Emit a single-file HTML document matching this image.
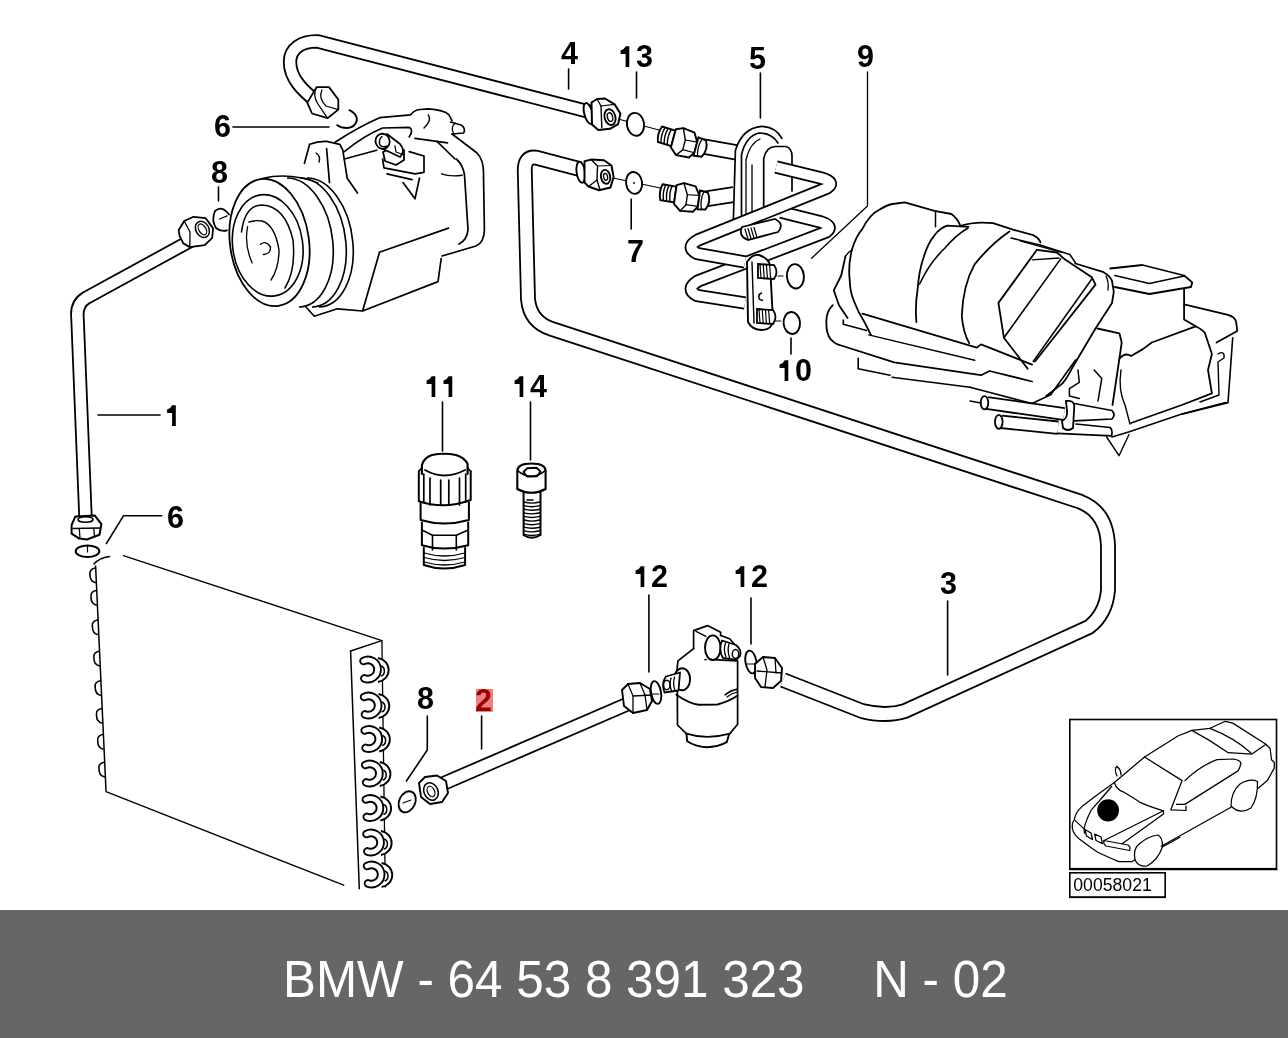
<!DOCTYPE html>
<html><head><meta charset="utf-8"><style>
html,body{margin:0;padding:0;background:#fff;}
body{width:1288px;height:1038px;overflow:hidden;position:relative;font-family:"Liberation Sans",sans-serif;}
#band{position:absolute;left:0;top:910px;width:1288px;height:128px;background:#666666;}
#cap{position:absolute;left:283px;top:948.6px;font-size:52px;color:#fff;white-space:pre;line-height:60px;transform-origin:0 0;transform:scaleX(0.9497);}
svg{position:absolute;left:0;top:0;}
text{-webkit-font-smoothing:antialiased;}
#cap{-webkit-font-smoothing:antialiased;}
</style></head><body>
<svg width="1288" height="910" viewBox="0 0 1288 910" style="will-change:transform">
<path d="M316,101 C302,90 290,78 290,62 C290,48 302,41 318,41.5 L592,112.5" fill="none" stroke="#000" stroke-width="14.3" stroke-linejoin="round" stroke-linecap="butt"/>
<path d="M316,101 C302,90 290,78 290,62 C290,48 302,41 318,41.5 L592,112.5" fill="none" stroke="#fff" stroke-width="10.7" stroke-linejoin="round" stroke-linecap="butt"/>
<path d="M783,680 L862,711 Q886,717 905,711 L1089,627 Q1106,614 1108,590 L1108,546 Q1107,512 1080,501.6 L552,329 Q530,322 528,299 L524.8,172 Q524,155.5 537,157.8 L580,169.2" fill="none" stroke="#000" stroke-width="15.8" stroke-linejoin="round" stroke-linecap="butt"/>
<path d="M783,680 L862,711 Q886,717 905,711 L1089,627 Q1106,614 1108,590 L1108,546 Q1107,512 1080,501.6 L552,329 Q530,322 528,299 L524.8,172 Q524,155.5 537,157.8 L580,169.2" fill="none" stroke="#fff" stroke-width="12.2" stroke-linejoin="round" stroke-linecap="butt"/>
<path d="M192,240 L86,298 Q76,304 77.5,318 L85.5,517" fill="none" stroke="#000" stroke-width="14.3" stroke-linejoin="round" stroke-linecap="butt"/>
<path d="M192,240 L86,298 Q76,304 77.5,318 L85.5,517" fill="none" stroke="#fff" stroke-width="10.7" stroke-linejoin="round" stroke-linecap="butt"/>
<path d="M440,785 L630,703" fill="none" stroke="#000" stroke-width="14.8" stroke-linejoin="round" stroke-linecap="butt"/>
<path d="M440,785 L630,703" fill="none" stroke="#fff" stroke-width="11.2" stroke-linejoin="round" stroke-linecap="butt"/>
<text x="561.00" y="64" font-family="Liberation Sans" font-weight="bold" font-size="30.5" fill="#000">4</text>
<path d="M625.60,67.00 L625.60,54.10 L620.60,54.10 L620.60,50.60 Q624.20,49.70 625.70,46.30 L629.30,46.30 L629.30,67.00 Z" fill="#000"/>
<text x="635.96" y="67" font-family="Liberation Sans" font-weight="bold" font-size="30.5" fill="#000">3</text>
<text x="749.00" y="69" font-family="Liberation Sans" font-weight="bold" font-size="30.5" fill="#000">5</text>
<text x="857.00" y="67" font-family="Liberation Sans" font-weight="bold" font-size="30.5" fill="#000">9</text>
<text x="214.00" y="137" font-family="Liberation Sans" font-weight="bold" font-size="30.5" fill="#000">6</text>
<text x="211.00" y="183" font-family="Liberation Sans" font-weight="bold" font-size="30.5" fill="#000">8</text>
<text x="627.00" y="262" font-family="Liberation Sans" font-weight="bold" font-size="30.5" fill="#000">7</text>
<path d="M784.60,381.00 L784.60,368.10 L779.60,368.10 L779.60,364.60 Q783.20,363.70 784.70,360.30 L788.30,360.30 L788.30,381.00 Z" fill="#000"/>
<text x="794.96" y="381" font-family="Liberation Sans" font-weight="bold" font-size="30.5" fill="#000">0</text>
<path d="M431.60,397.00 L431.60,384.10 L426.60,384.10 L426.60,380.60 Q430.20,379.70 431.70,376.30 L435.30,376.30 L435.30,397.00 Z" fill="#000"/>
<path d="M448.56,397.00 L448.56,384.10 L443.56,384.10 L443.56,380.60 Q447.16,379.70 448.66,376.30 L452.26,376.30 L452.26,397.00 Z" fill="#000"/>
<path d="M519.60,397.00 L519.60,384.10 L514.60,384.10 L514.60,380.60 Q518.20,379.70 519.70,376.30 L523.30,376.30 L523.30,397.00 Z" fill="#000"/>
<text x="529.96" y="397" font-family="Liberation Sans" font-weight="bold" font-size="30.5" fill="#000">4</text>
<path d="M172.10,426.00 L172.10,413.10 L167.10,413.10 L167.10,409.60 Q170.70,408.70 172.20,405.30 L175.80,405.30 L175.80,426.00 Z" fill="#000"/>
<text x="167.00" y="528" font-family="Liberation Sans" font-weight="bold" font-size="30.5" fill="#000">6</text>
<path d="M640.60,587.00 L640.60,574.10 L635.60,574.10 L635.60,570.60 Q639.20,569.70 640.70,566.30 L644.30,566.30 L644.30,587.00 Z" fill="#000"/>
<text x="650.96" y="587" font-family="Liberation Sans" font-weight="bold" font-size="30.5" fill="#000">2</text>
<path d="M740.60,587.00 L740.60,574.10 L735.60,574.10 L735.60,570.60 Q739.20,569.70 740.70,566.30 L744.30,566.30 L744.30,587.00 Z" fill="#000"/>
<text x="750.96" y="587" font-family="Liberation Sans" font-weight="bold" font-size="30.5" fill="#000">2</text>
<text x="940.00" y="594" font-family="Liberation Sans" font-weight="bold" font-size="30.5" fill="#000">3</text>
<text x="417.00" y="709" font-family="Liberation Sans" font-weight="bold" font-size="30.5" fill="#000">8</text>
<rect x="476" y="689" width="17" height="23" fill="#f08080"/>
<text x="475.00" y="711" font-family="Liberation Sans" font-weight="bold" font-size="30.5" fill="#990000">2</text>
<path d="M233.0,127.0 L329.0,127.0" fill="none" stroke="#000" stroke-width="1.6" stroke-linejoin="round" stroke-linecap="round"/>
<path d="M218.5,187.0 L218.5,201.0" fill="none" stroke="#000" stroke-width="1.6" stroke-linejoin="round" stroke-linecap="round"/>
<path d="M568.6,69.0 L568.6,89.0" fill="none" stroke="#000" stroke-width="1.6" stroke-linejoin="round" stroke-linecap="round"/>
<path d="M636.5,72.0 L636.5,98.0" fill="none" stroke="#000" stroke-width="1.6" stroke-linejoin="round" stroke-linecap="round"/>
<path d="M760.4,73.0 L760.4,118.0" fill="none" stroke="#000" stroke-width="1.6" stroke-linejoin="round" stroke-linecap="round"/>
<path d="M867.5,72.0 L867.5,206.0 L811.6,258.2" fill="none" stroke="#000" stroke-width="1.3" stroke-linejoin="round" stroke-linecap="round"/>
<path d="M631.2,199.0 L631.2,229.0" fill="none" stroke="#000" stroke-width="1.6" stroke-linejoin="round" stroke-linecap="round"/>
<path d="M791.0,338.0 L791.0,354.0" fill="none" stroke="#000" stroke-width="1.6" stroke-linejoin="round" stroke-linecap="round"/>
<path d="M442.5,402.0 L442.5,451.0" fill="none" stroke="#000" stroke-width="1.6" stroke-linejoin="round" stroke-linecap="round"/>
<path d="M530.5,402.0 L530.5,460.0" fill="none" stroke="#000" stroke-width="1.6" stroke-linejoin="round" stroke-linecap="round"/>
<path d="M98.0,415.0 L160.0,415.0" fill="none" stroke="#000" stroke-width="1.6" stroke-linejoin="round" stroke-linecap="round"/>
<path d="M161.7,515.7 L123.6,515.7 L106.4,543.5" fill="none" stroke="#000" stroke-width="1.6" stroke-linejoin="round" stroke-linecap="round"/>
<path d="M648.9,595.0 L648.9,672.0" fill="none" stroke="#000" stroke-width="1.6" stroke-linejoin="round" stroke-linecap="round"/>
<path d="M751.0,598.0 L751.0,644.0" fill="none" stroke="#000" stroke-width="1.6" stroke-linejoin="round" stroke-linecap="round"/>
<path d="M947.6,601.0 L947.6,675.0" fill="none" stroke="#000" stroke-width="1.6" stroke-linejoin="round" stroke-linecap="round"/>
<path d="M427.3,716.0 L427.3,750.0 L406.4,781.0" fill="none" stroke="#000" stroke-width="1.6" stroke-linejoin="round" stroke-linecap="round"/>
<path d="M481.6,716.0 L481.6,749.0" fill="none" stroke="#000" stroke-width="1.6" stroke-linejoin="round" stroke-linecap="round"/>
<path d="M300,165 L309.6,144.3 L339.8,144.3 L380,118 L428,109 L452,118 L452,137 L477,153 L483,162 L484.4,229.8 L479,245 L441,257 L438,281.6 L362.6,311 L337,309 L314,316 L300,305 L283,306 Z" fill="#fff" stroke="#000" stroke-width="0" stroke-linejoin="round" stroke-linecap="round"/>
<path d="M452,134 Q468,146 477,153 Q484,160 483.5,175 L484.4,229.8 Q484,243 476,246 L442,256" fill="none" stroke="#000" stroke-width="1.7" stroke-linejoin="round" stroke-linecap="round"/>
<path d="M456.4,159 Q463,165 464.5,175 L468,229.8 Q467,240 459,244" fill="none" stroke="#000" stroke-width="1.7" stroke-linejoin="round" stroke-linecap="round"/>
<path d="M379.3,252.2 L448.5,228.1" fill="none" stroke="#000" stroke-width="1.7" stroke-linejoin="round" stroke-linecap="round"/>
<path d="M379.3,253 L362.6,311 L438,281.6 L441.2,258.5" fill="none" stroke="#000" stroke-width="1.7" stroke-linejoin="round" stroke-linecap="round"/>
<path d="M303.9,304.7 L314.3,316.2 L337.4,308.8 L362.6,311" fill="none" stroke="#000" stroke-width="1.7" stroke-linejoin="round" stroke-linecap="round"/>
<path d="M304.4,163.4 L309.6,144.3 Q318,141 326.6,141.3 L339.8,144.3 L342.8,150.2 L347.2,178.2 L357.5,193" fill="none" stroke="#000" stroke-width="1.7" stroke-linejoin="round" stroke-linecap="round"/>
<path d="M326.6,148.7 L329.5,182.6" fill="none" stroke="#000" stroke-width="1.7" stroke-linejoin="round" stroke-linecap="round"/>
<path d="M316,153 Q321,156 319,162" fill="none" stroke="#000" stroke-width="1.4" stroke-linejoin="round" stroke-linecap="round"/>
<path d="M344.3,159 L376.7,150.2" fill="none" stroke="#000" stroke-width="1.7" stroke-linejoin="round" stroke-linecap="round"/>
<path d="M335.4,142 Q360,126 379.7,117.7 L410.6,114.8 Q414,110 420,109.5 L428.3,108.9 Q444,110 449,114.8 L452,120.7" fill="none" stroke="#000" stroke-width="1.7" stroke-linejoin="round" stroke-linecap="round"/>
<path d="M344.3,151.6 Q365,135 382.6,128 L409.2,127.3 Q414,130 409.2,136.9" fill="none" stroke="#000" stroke-width="1.7" stroke-linejoin="round" stroke-linecap="round"/>
<path d="M428.3,114.8 Q432,120 424,128" fill="none" stroke="#000" stroke-width="1.4" stroke-linejoin="round" stroke-linecap="round"/>
<path d="M415,138.4 L447.5,142.8" fill="none" stroke="#000" stroke-width="1.7" stroke-linejoin="round" stroke-linecap="round"/>
<path d="M437,141.3 L455,159" fill="none" stroke="#000" stroke-width="1.7" stroke-linejoin="round" stroke-linecap="round"/>
<path d="M450.5,122 L461,125 Q466,128 463.7,133 L452,134" fill="none" stroke="#000" stroke-width="1.6" stroke-linejoin="round" stroke-linecap="round"/>
<path d="M455,123 Q450,128 454,134" fill="none" stroke="#000" stroke-width="1.3" stroke-linejoin="round" stroke-linecap="round"/>
<path d="M382.6,159 L384,167.9 L415,173.8 L424,172.3 L424,156 L409.2,151.6" fill="none" stroke="#000" stroke-width="1.7" stroke-linejoin="round" stroke-linecap="round"/>
<path d="M383,152 L385,161 L396,165 L404,160 L404,150 L395,146 Z" fill="#fff" stroke="#000" stroke-width="1.8" stroke-linejoin="round"/>
<path d="M387,134 L400,144 Q406,151 400,157 L379,147 Z" fill="#fff" stroke="#000" stroke-width="1.8" stroke-linejoin="round"/>
<ellipse cx="382.6" cy="141.3" rx="7" ry="7.6" transform="rotate(-20 382.6 141.3)" fill="#fff" stroke="#000" stroke-width="1.8"/>
<path d="M382,136.5 Q378,140 380,145 Q383,148 387,146" fill="none" stroke="#000" stroke-width="1.4" stroke-linejoin="round" stroke-linecap="round"/>
<path d="M395,146 L396,152 L404,155" fill="none" stroke="#000" stroke-width="1.3" stroke-linejoin="round" stroke-linecap="round"/>
<path d="M387,173.8 L412,179.7" fill="none" stroke="#000" stroke-width="1.7" stroke-linejoin="round" stroke-linecap="round"/>
<path d="M403,182.6 L415,198.8 L419.5,178" fill="none" stroke="#000" stroke-width="1.7" stroke-linejoin="round" stroke-linecap="round"/>
<path d="M441.6,173.8 Q450,177 462.3,175.2" fill="none" stroke="#000" stroke-width="1.4" stroke-linejoin="round" stroke-linecap="round"/>
<path d="M307,178 A38.5 63 -8 0 1 319,307" fill="#fff" stroke="#000" stroke-width="1.6"/>
<path d="M300,178 A38.5 63 -8 0 1 312,307" fill="#fff" stroke="#000" stroke-width="1.6"/>
<path d="M287,178 A38.5 63 -8 0 1 299,307" fill="#fff" stroke="#000" stroke-width="1.6"/>
<path d="M262,178.5 Q290,172 318,183" fill="none" stroke="#000" stroke-width="1.5" stroke-linejoin="round" stroke-linecap="round"/>
<ellipse cx="269.5" cy="242.5" rx="39.5" ry="64" transform="rotate(-8 269.5 242.5)" fill="#fff" stroke="#000" stroke-width="1.8"/>
<ellipse cx="267.7" cy="245.4" rx="35" ry="51" transform="rotate(-8 267.7 245.4)" fill="none" stroke="#000" stroke-width="1.6"/>
<path d="M241.5,232 Q245,205 262,205 Q285,206 293,240 Q296,270 285,288" fill="none" stroke="#000" stroke-width="1.5" stroke-linejoin="round" stroke-linecap="round"/>
<path d="M249,222 Q255,220 262,221 Q275,225 279,250 Q279,268 271,280" fill="none" stroke="#000" stroke-width="1.4" stroke-linejoin="round" stroke-linecap="round"/>
<path d="M247.6,226.6 Q244,245 252.2,262.9" fill="none" stroke="#000" stroke-width="1.3" stroke-linejoin="round" stroke-linecap="round"/>
<path d="M260.6,244.3 Q266,240 270.5,247 Q271,254 263.4,254.5" fill="none" stroke="#000" stroke-width="1.4" stroke-linejoin="round" stroke-linecap="round"/>
<path d="M178.6,230.3 L184.2,221.0 L193.5,216.8 L205.7,218.2 L213.1,228.4 L212.2,237.8 L204.7,245.2 L189.8,247.1 L183.3,243.4 L179.6,235.9Z" fill="#fff" stroke="#000" stroke-width="1.8" stroke-linejoin="round" stroke-linecap="round"/>
<ellipse cx="202.4" cy="229.4" rx="6.5" ry="8.5" transform="rotate(-30 202.4 229.4)" fill="#fff" stroke="#000" stroke-width="1.5"/>
<ellipse cx="202.4" cy="229.4" rx="3.5" ry="6" transform="rotate(-30 202.4 229.4)" fill="none" stroke="#000" stroke-width="1.2"/>
<path d="M184.2,221 L190,232 L189.8,247" fill="none" stroke="#000" stroke-width="1.3" stroke-linejoin="round" stroke-linecap="round"/>
<path d="M229,214.5 Q222,205 215,211 Q211,220 216,228 Q221,232 227,230.3" fill="none" stroke="#000" stroke-width="1.8" stroke-linejoin="round" stroke-linecap="round"/>
<path d="M219.6,219 L227,215.9" fill="none" stroke="#000" stroke-width="1.3" stroke-linejoin="round" stroke-linecap="round"/>
<path d="M307.3,102.6 L312.0,113.5 L327.5,118.2 L338.3,109.6 L338.3,99.5 L329.0,87.1 L316.6,87.1Z" fill="#fff" stroke="#000" stroke-width="1.8" stroke-linejoin="round" stroke-linecap="round"/>
<path d="M316.6,87.1 Q312,95 318,104 L327.5,118.2" fill="none" stroke="#000" stroke-width="1.3" stroke-linejoin="round" stroke-linecap="round"/>
<path d="M322,90 Q318,98 326,106 L338.3,109.6" fill="none" stroke="#000" stroke-width="1.3" stroke-linejoin="round" stroke-linecap="round"/>
<path d="M349.5,110.2 Q357.5,114 356.8,120.5 Q355,127.5 347,128 Q341,128 337.3,125.2" fill="none" stroke="#000" stroke-width="2.0" stroke-linejoin="round" stroke-linecap="round"/>
<path d="M123.4,555.6 L381.9,640.6 L385.3,887 L359.3,888.7 L343.7,885.2 L106,791.6 L95.6,566 Z" fill="#fff" stroke="none"/>
<path d="M123.4,555.6 L381.9,640.6" fill="none" stroke="#000" stroke-width="1.4" stroke-linejoin="round" stroke-linecap="round"/>
<path d="M95.6,566 L106,790.5" fill="none" stroke="#000" stroke-width="1.5" stroke-linejoin="round" stroke-linecap="round"/>
<path d="M106,791.6 L343.7,885.2" fill="none" stroke="#000" stroke-width="1.4" stroke-linejoin="round" stroke-linecap="round"/>
<path d="M350.6,651 L359.3,888.7" fill="none" stroke="#000" stroke-width="1.5" stroke-linejoin="round" stroke-linecap="round"/>
<path d="M350.6,651 L381.9,640.6" fill="none" stroke="#000" stroke-width="1.5" stroke-linejoin="round" stroke-linecap="round"/>
<path d="M381.9,640.6 L385.3,887" fill="none" stroke="#000" stroke-width="1.3" stroke-linejoin="round" stroke-linecap="round"/>
<path d="M94,564 Q99,558 109.5,556.5" fill="none" stroke="#000" stroke-width="1.6" stroke-linejoin="round" stroke-linecap="round"/>
<path d="M96.0,567.7 Q89.0,568.7 90.0,574.7 Q90.0,581.7 96.0,582.7" fill="none" stroke="#000" stroke-width="1.6"/>
<path d="M97.0,590.3 Q90.0,591.3 91.0,597.3 Q91.0,604.3 97.0,605.3" fill="none" stroke="#000" stroke-width="1.6"/>
<path d="M98.4,619.7 Q91.4,620.7 92.4,626.7 Q92.4,633.7 98.4,634.7" fill="none" stroke="#000" stroke-width="1.6"/>
<path d="M99.9,651.0 Q92.9,652.0 93.9,658.0 Q93.9,665.0 99.9,666.0" fill="none" stroke="#000" stroke-width="1.6"/>
<path d="M101.2,680.5 Q94.2,681.5 95.2,687.5 Q95.2,694.5 101.2,695.5" fill="none" stroke="#000" stroke-width="1.6"/>
<path d="M102.5,708.2 Q95.5,709.2 96.5,715.2 Q96.5,722.2 102.5,723.2" fill="none" stroke="#000" stroke-width="1.6"/>
<path d="M103.7,734.2 Q96.7,735.2 97.7,741.2 Q97.7,748.2 103.7,749.2" fill="none" stroke="#000" stroke-width="1.6"/>
<path d="M105.0,762.0 Q98.0,763.0 99.0,769.0 Q99.0,776.0 105.0,777.0" fill="none" stroke="#000" stroke-width="1.6"/>
<path d="M378.0,658.0 A13 12.2 0 0 1 378.0,682.0" fill="#fff" stroke="#000" stroke-width="1.9"/>
<path d="M381.0,666.0 A4.7 5.2 0 0 1 381.0,676.0" fill="none" stroke="#000" stroke-width="1.5"/>
<path d="M363.5,661.0 A9.6 9.6 0 1 1 364.4,678.4" fill="none" stroke="#000" stroke-width="8.6" stroke-linecap="round"/>
<path d="M363.5,661.0 A9.6 9.6 0 1 1 364.4,678.4" fill="none" stroke="#fff" stroke-width="4.8" stroke-linecap="round"/>
<path d="M378.6,694.0 A13 12.2 0 0 1 378.6,718.0" fill="#fff" stroke="#000" stroke-width="1.9"/>
<path d="M381.6,702.0 A4.7 5.2 0 0 1 381.6,712.0" fill="none" stroke="#000" stroke-width="1.5"/>
<path d="M364.1,697.0 A9.6 9.6 0 1 1 365.0,714.4" fill="none" stroke="#000" stroke-width="8.6" stroke-linecap="round"/>
<path d="M364.1,697.0 A9.6 9.6 0 1 1 365.0,714.4" fill="none" stroke="#fff" stroke-width="4.8" stroke-linecap="round"/>
<path d="M379.2,727.5 A13 12.2 0 0 1 379.2,751.5" fill="#fff" stroke="#000" stroke-width="1.9"/>
<path d="M382.2,735.5 A4.7 5.2 0 0 1 382.2,745.5" fill="none" stroke="#000" stroke-width="1.5"/>
<path d="M364.7,730.5 A9.6 9.6 0 1 1 365.6,747.9" fill="none" stroke="#000" stroke-width="8.6" stroke-linecap="round"/>
<path d="M364.7,730.5 A9.6 9.6 0 1 1 365.6,747.9" fill="none" stroke="#fff" stroke-width="4.8" stroke-linecap="round"/>
<path d="M379.8,762.0 A13 12.2 0 0 1 379.8,786.0" fill="#fff" stroke="#000" stroke-width="1.9"/>
<path d="M382.8,770.0 A4.7 5.2 0 0 1 382.8,780.0" fill="none" stroke="#000" stroke-width="1.5"/>
<path d="M365.3,765.0 A9.6 9.6 0 1 1 366.2,782.4" fill="none" stroke="#000" stroke-width="8.6" stroke-linecap="round"/>
<path d="M365.3,765.0 A9.6 9.6 0 1 1 366.2,782.4" fill="none" stroke="#fff" stroke-width="4.8" stroke-linecap="round"/>
<path d="M380.4,796.5 A13 12.2 0 0 1 380.4,820.5" fill="#fff" stroke="#000" stroke-width="1.9"/>
<path d="M383.4,804.5 A4.7 5.2 0 0 1 383.4,814.5" fill="none" stroke="#000" stroke-width="1.5"/>
<path d="M365.9,799.5 A9.6 9.6 0 1 1 366.8,816.9" fill="none" stroke="#000" stroke-width="8.6" stroke-linecap="round"/>
<path d="M365.9,799.5 A9.6 9.6 0 1 1 366.8,816.9" fill="none" stroke="#fff" stroke-width="4.8" stroke-linecap="round"/>
<path d="M381.0,831.0 A13 12.2 0 0 1 381.0,855.0" fill="#fff" stroke="#000" stroke-width="1.9"/>
<path d="M384.0,839.0 A4.7 5.2 0 0 1 384.0,849.0" fill="none" stroke="#000" stroke-width="1.5"/>
<path d="M366.5,834.0 A9.6 9.6 0 1 1 367.4,851.4" fill="none" stroke="#000" stroke-width="8.6" stroke-linecap="round"/>
<path d="M366.5,834.0 A9.6 9.6 0 1 1 367.4,851.4" fill="none" stroke="#fff" stroke-width="4.8" stroke-linecap="round"/>
<path d="M381.6,863.0 A13 12.2 0 0 1 381.6,887.0" fill="#fff" stroke="#000" stroke-width="1.9"/>
<path d="M384.6,871.0 A4.7 5.2 0 0 1 384.6,881.0" fill="none" stroke="#000" stroke-width="1.5"/>
<path d="M367.1,866.0 A9.6 9.6 0 1 1 368.0,883.4" fill="none" stroke="#000" stroke-width="8.6" stroke-linecap="round"/>
<path d="M367.1,866.0 A9.6 9.6 0 1 1 368.0,883.4" fill="none" stroke="#fff" stroke-width="4.8" stroke-linecap="round"/>
<ellipse cx="87.5" cy="551.2" rx="11.8" ry="5.8" transform="rotate(0 87.5 551.2)" fill="none" stroke="#000" stroke-width="2.0"/>
<path d="M87.5,546 L87.5,552" fill="none" stroke="#000" stroke-width="1.2" stroke-linejoin="round" stroke-linecap="round"/>
<path d="M75.4,516.4 L94.7,515.4 L101.4,524.1 L99.5,534.7 L87.0,539.5 L79.3,538.6 L71.6,533.7 L71.6,525.0Z" fill="#fff" stroke="#000" stroke-width="2.0" stroke-linejoin="round" stroke-linecap="round"/>
<path d="M73,528.5 L100,528" fill="none" stroke="#000" stroke-width="1.5" stroke-linejoin="round" stroke-linecap="round"/>
<path d="M79.3,528.7 L80,538.5" fill="none" stroke="#000" stroke-width="1.3" stroke-linejoin="round" stroke-linecap="round"/>
<path d="M93.7,528.5 L94.5,536.5" fill="none" stroke="#000" stroke-width="1.3" stroke-linejoin="round" stroke-linecap="round"/>
<ellipse cx="85.5" cy="519.5" rx="7.5" ry="2.8" transform="rotate(0 85.5 519.5)" fill="#fff" stroke="#000" stroke-width="1.6"/>
<ellipse cx="407.2" cy="801.8" rx="8" ry="11" transform="rotate(25 407.2 801.8)" fill="none" stroke="#000" stroke-width="1.9"/>
<path d="M403,803 L411,800" fill="none" stroke="#000" stroke-width="1.2" stroke-linejoin="round" stroke-linecap="round"/>
<path d="M419.0,783.0 L425.0,777.0 L437.0,775.5 L446.0,781.0 L448.0,793.0 L442.0,802.0 L430.0,804.0 L421.0,797.0Z" fill="#fff" stroke="#000" stroke-width="1.9" stroke-linejoin="round" stroke-linecap="round"/>
<ellipse cx="431" cy="791.5" rx="7" ry="9" transform="rotate(-25 431 791.5)" fill="none" stroke="#000" stroke-width="1.6"/>
<ellipse cx="431" cy="791.5" rx="3.5" ry="5.5" transform="rotate(-25 431 791.5)" fill="none" stroke="#000" stroke-width="1.3"/>
<path d="M677.2,667.4 L678,660.9 L693.6,648.6 L693.6,630.6 L707.5,625.6 L720.6,632.2 L729.6,638.8 L740.3,651 L737.6,661 L737.6,724.3 L729.9,733.6 L729.1,742 Q718,747.5 706.6,747.5 Q695,746.5 687.2,741.3 L686.4,733.6 L677.5,725 Z" fill="#fff" stroke="none"/>
<path d="M693.6,648.6 L678,660.9 L677.2,667.4 L677.5,725 L686.4,733.6 Q706.6,740 729.9,733.6 L737.6,724.3 L737.6,660.9" fill="none" stroke="#000" stroke-width="1.7" stroke-linejoin="round" stroke-linecap="round"/>
<path d="M676.3,694.8 Q690,704 698.8,704.8 L717.5,704.5 Q730,701 737.6,695.5" fill="none" stroke="#000" stroke-width="1.9" stroke-linejoin="round" stroke-linecap="round"/>
<path d="M686.4,733.6 L687.2,741.3 Q695,746.5 706.6,747.2 Q718,747 726.8,742.1 L729.1,734.3" fill="none" stroke="#000" stroke-width="1.9" stroke-linejoin="round" stroke-linecap="round"/>
<path d="M725.2,694.8 Q731,690 736.9,689.3" fill="none" stroke="#000" stroke-width="1.7" stroke-linejoin="round" stroke-linecap="round"/>
<path d="M727,697 Q732,693 737,692" fill="none" stroke="#000" stroke-width="1.2" stroke-linejoin="round" stroke-linecap="round"/>
<path d="M693.6,648.6 L693.6,630.6 L707.5,625.6 L720.6,632.2 L720.6,636" fill="none" stroke="#000" stroke-width="1.7" stroke-linejoin="round" stroke-linecap="round"/>
<path d="M696,631.4 L705.9,636.3" fill="none" stroke="#000" stroke-width="1.5" stroke-linejoin="round" stroke-linecap="round"/>
<path d="M712.8,635.4 L720.6,635.5 L729.6,638.8 L740.3,651 L737,660.9 L713.2,660 Z" fill="#fff" stroke="none"/>
<path d="M720.6,635.5 L729.6,638.8 L740.3,651" fill="none" stroke="#000" stroke-width="1.7" stroke-linejoin="round" stroke-linecap="round"/>
<path d="M713.2,659.6 L737,660.9" fill="none" stroke="#000" stroke-width="1.7" stroke-linejoin="round" stroke-linecap="round"/>
<ellipse cx="712.8" cy="647.7" rx="7.8" ry="12.3" transform="rotate(0 712.8 647.7)" fill="#fff" stroke="#000" stroke-width="1.9"/>
<path d="M722,640.5 L736,645 Q742,650 740,656 L736,660 L723,658 Q718,650 722,640.5 Z" fill="#fff" stroke="#000" stroke-width="1.8"/>
<path d="M725.5,643 Q723,650 726,657" fill="none" stroke="#000" stroke-width="1.3" stroke-linejoin="round" stroke-linecap="round"/>
<path d="M729,644 Q727,650 729.5,657.5" fill="none" stroke="#000" stroke-width="1.3" stroke-linejoin="round" stroke-linecap="round"/>
<ellipse cx="735.5" cy="654" rx="3.2" ry="4.5" transform="rotate(0 735.5 654)" fill="none" stroke="#000" stroke-width="1.5"/>
<path d="M704.2,659.6 L712,659.6" stroke="#000" stroke-width="1.4" stroke-dasharray="3,2"/>
<ellipse cx="682.1" cy="679.2" rx="8" ry="11" transform="rotate(0 682.1 679.2)" fill="#fff" stroke="#000" stroke-width="1.9"/>
<path d="M680,672.5 L666,676.5 Q661,683 664.5,692.5 L678.5,690.5 Z" fill="#fff" stroke="#000" stroke-width="1.8" stroke-linejoin="round"/>
<ellipse cx="666.8" cy="685" rx="3.2" ry="4.8" transform="rotate(0 666.8 685)" fill="none" stroke="#000" stroke-width="1.4"/>
<path d="M671,678 Q669,684 671.5,691" fill="none" stroke="#000" stroke-width="1.3" stroke-linejoin="round" stroke-linecap="round"/>
<path d="M674.5,677 Q672.5,684 675,690.5" fill="none" stroke="#000" stroke-width="1.3" stroke-linejoin="round" stroke-linecap="round"/>
<ellipse cx="656" cy="692.5" rx="5" ry="11.5" transform="rotate(-10 656 692.5)" fill="none" stroke="#000" stroke-width="1.9"/>
<path d="M651,694 L659,694" fill="none" stroke="#000" stroke-width="1.2" stroke-linejoin="round" stroke-linecap="round"/>
<path d="M622.0,690.0 L628.0,684.0 L640.0,683.0 L650.0,689.0 L652.0,701.0 L647.0,710.0 L633.0,713.0 L624.0,706.0Z" fill="#fff" stroke="#000" stroke-width="1.9" stroke-linejoin="round" stroke-linecap="round"/>
<path d="M628,684 L633,696 L633,713" fill="none" stroke="#000" stroke-width="1.3" stroke-linejoin="round" stroke-linecap="round"/>
<path d="M640,683 L645,695 L647,710" fill="none" stroke="#000" stroke-width="1.3" stroke-linejoin="round" stroke-linecap="round"/>
<path d="M633,696 L652,695" fill="none" stroke="#000" stroke-width="1.3" stroke-linejoin="round" stroke-linecap="round"/>
<ellipse cx="751" cy="662" rx="5.5" ry="11.5" transform="rotate(-10 751 662)" fill="none" stroke="#000" stroke-width="1.9"/>
<path d="M746,664 L756,664" fill="none" stroke="#000" stroke-width="1.2" stroke-linejoin="round" stroke-linecap="round"/>
<path d="M755.0,664.0 L763.0,657.0 L775.0,658.0 L782.0,668.0 L781.0,681.0 L773.0,688.0 L761.0,687.0 L755.0,678.0Z" fill="#fff" stroke="#000" stroke-width="1.9" stroke-linejoin="round" stroke-linecap="round"/>
<path d="M763,657 L767,670 L765,687" fill="none" stroke="#000" stroke-width="1.3" stroke-linejoin="round" stroke-linecap="round"/>
<path d="M775,658 L776,673" fill="none" stroke="#000" stroke-width="1.3" stroke-linejoin="round" stroke-linecap="round"/>
<path d="M757,671 L782,673" fill="none" stroke="#000" stroke-width="1.3" stroke-linejoin="round" stroke-linecap="round"/>
<path d="M421,462 Q424,455 444,453 Q465,455 468,462 L470.7,471 L470.7,501 L468.9,520 L468.2,546 L465.1,548 L465.1,566 Q444,573 423.8,566 L423.8,548 L421.9,546 L420.6,520 L418.8,501 L418.8,471 Z" fill="#fff" stroke="none"/>
<path d="M421.9,474 L421.9,465 Q424,457.5 432,455 Q444,452.5 456,455 Q465,458 467.6,464 L467.6,474" fill="none" stroke="#000" stroke-width="2.2" stroke-linejoin="round" stroke-linecap="round"/>
<path d="M425,470 Q444,481 465.1,470" fill="none" stroke="#000" stroke-width="1.8" stroke-linejoin="round" stroke-linecap="round"/>
<path d="M418.8,471.3 L418.8,501.3 Q444,510 470.7,500 L470.7,471.3" fill="none" stroke="#000" stroke-width="2.0" stroke-linejoin="round" stroke-linecap="round"/>
<path d="M418.8,471.3 L421.9,468" fill="none" stroke="#000" stroke-width="1.6" stroke-linejoin="round" stroke-linecap="round"/>
<path d="M470.7,471.3 L467.6,468" fill="none" stroke="#000" stroke-width="1.6" stroke-linejoin="round" stroke-linecap="round"/>
<path d="M423.8,474 L423.8,502" fill="none" stroke="#000" stroke-width="1.7" stroke-linejoin="round" stroke-linecap="round"/>
<path d="M430,478 L430,505" fill="none" stroke="#000" stroke-width="1.7" stroke-linejoin="round" stroke-linecap="round"/>
<path d="M440.7,480 L440.7,505" fill="none" stroke="#000" stroke-width="1.7" stroke-linejoin="round" stroke-linecap="round"/>
<path d="M448.8,480 L448.8,505" fill="none" stroke="#000" stroke-width="1.7" stroke-linejoin="round" stroke-linecap="round"/>
<path d="M459.5,478 L459.5,505" fill="none" stroke="#000" stroke-width="1.7" stroke-linejoin="round" stroke-linecap="round"/>
<path d="M465.7,474 L465.7,502" fill="none" stroke="#000" stroke-width="1.7" stroke-linejoin="round" stroke-linecap="round"/>
<path d="M420.6,502.6 L420.6,520 Q444,527 468.9,520 L468.9,502.6" fill="none" stroke="#000" stroke-width="2.0" stroke-linejoin="round" stroke-linecap="round"/>
<path d="M421.9,522.6 L421.9,545.2 Q444,552 468.2,545.2 L468.2,522.6" fill="none" stroke="#000" stroke-width="2.0" stroke-linejoin="round" stroke-linecap="round"/>
<path d="M421.9,530 L432.5,535.2 L456.3,535.2 L468.2,530" fill="none" stroke="#000" stroke-width="1.6" stroke-linejoin="round" stroke-linecap="round"/>
<path d="M432.5,535.2 L432.5,550" fill="none" stroke="#000" stroke-width="1.6" stroke-linejoin="round" stroke-linecap="round"/>
<path d="M456.3,535.2 L456.3,550" fill="none" stroke="#000" stroke-width="1.6" stroke-linejoin="round" stroke-linecap="round"/>
<path d="M423.8,548 L423.8,565 Q444,572 465.1,565 L465.1,548" fill="none" stroke="#000" stroke-width="2.0" stroke-linejoin="round" stroke-linecap="round"/>
<path d="M424.3,553 Q444.5,559 464.7,553" fill="none" stroke="#000" stroke-width="1.3" stroke-linejoin="round" stroke-linecap="round"/>
<path d="M424.3,557.5 Q444.5,563.5 464.7,557.5" fill="none" stroke="#000" stroke-width="1.3" stroke-linejoin="round" stroke-linecap="round"/>
<path d="M424.3,562 Q444.5,568 464.7,562" fill="none" stroke="#000" stroke-width="1.3" stroke-linejoin="round" stroke-linecap="round"/>
<path d="M523.6,491 L523.6,535 Q531.5,540.5 540.5,535 L540.5,491" fill="#fff" stroke="#000" stroke-width="2"/>
<path d="M524,502.0 Q531.5,504.2 540,502.0" fill="none" stroke="#000" stroke-width="1.4" stroke-linejoin="round" stroke-linecap="round"/>
<path d="M524,505.6 Q531.5,507.8 540,505.6" fill="none" stroke="#000" stroke-width="1.4" stroke-linejoin="round" stroke-linecap="round"/>
<path d="M524,509.2 Q531.5,511.4 540,509.2" fill="none" stroke="#000" stroke-width="1.4" stroke-linejoin="round" stroke-linecap="round"/>
<path d="M524,512.8 Q531.5,515.0 540,512.8" fill="none" stroke="#000" stroke-width="1.4" stroke-linejoin="round" stroke-linecap="round"/>
<path d="M524,516.4 Q531.5,518.6 540,516.4" fill="none" stroke="#000" stroke-width="1.4" stroke-linejoin="round" stroke-linecap="round"/>
<path d="M524,520.0 Q531.5,522.2 540,520.0" fill="none" stroke="#000" stroke-width="1.4" stroke-linejoin="round" stroke-linecap="round"/>
<path d="M524,523.6 Q531.5,525.8 540,523.6" fill="none" stroke="#000" stroke-width="1.4" stroke-linejoin="round" stroke-linecap="round"/>
<path d="M524,527.2 Q531.5,529.4 540,527.2" fill="none" stroke="#000" stroke-width="1.4" stroke-linejoin="round" stroke-linecap="round"/>
<path d="M524,530.8 Q531.5,533.0 540,530.8" fill="none" stroke="#000" stroke-width="1.4" stroke-linejoin="round" stroke-linecap="round"/>
<path d="M524,534.4 Q531.5,536.6 540,534.4" fill="none" stroke="#000" stroke-width="1.4" stroke-linejoin="round" stroke-linecap="round"/>
<path d="M527,500 L533,500" fill="none" stroke="#000" stroke-width="1.6" stroke-linejoin="round" stroke-linecap="round"/>
<path d="M517.3,470.5 Q518,463.5 531.5,463.5 Q545,463.5 545.6,470.5 L545.6,489 Q531.5,496.5 517.3,489 Z" fill="#fff" stroke="#000" stroke-width="2.1"/>
<path d="M517.6,470.6 Q531,482 545.3,470.6" fill="none" stroke="#000" stroke-width="1.6" stroke-linejoin="round" stroke-linecap="round"/>
<path d="M523.5,472.0 L527.0,468.3 L536.5,467.8 L540.5,471.5 L537.0,476.3 L527.0,476.5Z" fill="none" stroke="#000" stroke-width="1.9" stroke-linejoin="round" stroke-linecap="round"/>
<ellipse cx="588.5" cy="113.5" rx="4.2" ry="10.8" transform="rotate(-15 588.5 113.5)" fill="#fff" stroke="#000" stroke-width="1.9"/>
<path d="M591.5,102.5 L597.0,99.0 L605.0,98.5 L614.6,104.3 L620.4,113.6 L618.1,124.1 L610.0,128.8 L598.3,130.0 L592.0,124.5Z" fill="#fff" stroke="#000" stroke-width="2.0" stroke-linejoin="round" stroke-linecap="round"/>
<path d="M597,99 L601,106 L601.8,127.6" fill="none" stroke="#000" stroke-width="1.4" stroke-linejoin="round" stroke-linecap="round"/>
<path d="M601,106 L614.6,104.3" fill="none" stroke="#000" stroke-width="1.2" stroke-linejoin="round" stroke-linecap="round"/>
<ellipse cx="610" cy="117.1" rx="5.4" ry="8" transform="rotate(-15 610 117.1)" fill="#fff" stroke="#000" stroke-width="1.9"/>
<ellipse cx="610" cy="117.1" rx="2.6" ry="4.4" transform="rotate(-15 610 117.1)" fill="none" stroke="#000" stroke-width="1.3"/>
<ellipse cx="580.8" cy="172.2" rx="4.2" ry="10.6" transform="rotate(-8 580.8 172.2)" fill="#fff" stroke="#000" stroke-width="1.9"/>
<path d="M584.5,161.2 L591.0,159.6 L604.0,160.3 L611.5,165.5 L613.6,177.0 L610.5,187.5 L599.0,190.3 L588.5,186.5 L584.5,182.5Z" fill="#fff" stroke="#000" stroke-width="2.0" stroke-linejoin="round" stroke-linecap="round"/>
<path d="M591,159.6 L597.5,166 L597,180 L600,190" fill="none" stroke="#000" stroke-width="1.4" stroke-linejoin="round" stroke-linecap="round"/>
<path d="M597.5,166 L611.5,165.5" fill="none" stroke="#000" stroke-width="1.2" stroke-linejoin="round" stroke-linecap="round"/>
<path d="M588.5,186.5 L597,180" fill="none" stroke="#000" stroke-width="1.2" stroke-linejoin="round" stroke-linecap="round"/>
<ellipse cx="605.6" cy="176.8" rx="4.6" ry="7" transform="rotate(-10 605.6 176.8)" fill="#fff" stroke="#000" stroke-width="1.9"/>
<ellipse cx="605.6" cy="176.8" rx="2" ry="3.5" transform="rotate(-10 605.6 176.8)" fill="none" stroke="#000" stroke-width="1.3"/>
<path d="M620,119.5 L660.7,130.5" stroke="#000" stroke-width="1.2"/>
<path d="M613,178 L662.6,188.5" stroke="#000" stroke-width="1.2"/>
<ellipse cx="635.5" cy="124.3" rx="8.6" ry="11.5" transform="rotate(-8 635.5 124.3)" fill="#fff" stroke="#000" stroke-width="1.9"/>
<ellipse cx="634.1" cy="182.9" rx="8" ry="11" transform="rotate(-8 634.1 182.9)" fill="#fff" stroke="#000" stroke-width="1.9"/>
<circle cx="634" cy="183" r="0.9" fill="#000"/>
<path d="M702,146.3 L737,152.5" fill="none" stroke="#000" stroke-width="16.3" stroke-linejoin="round" stroke-linecap="butt"/>
<path d="M702,146.3 L737,152.5" fill="none" stroke="#fff" stroke-width="12.7" stroke-linejoin="round" stroke-linecap="butt"/>
<path d="M702,199.5 L734,194.5" fill="none" stroke="#000" stroke-width="16.8" stroke-linejoin="round" stroke-linecap="butt"/>
<path d="M702,199.5 L734,194.5" fill="none" stroke="#fff" stroke-width="13.2" stroke-linejoin="round" stroke-linecap="butt"/>
<g transform="rotate(15 659 134)">
<path d="M660,126 L674,126.5 L674,142.5 L660,142 Q657,134 660,126 Z" fill="#fff" stroke="#000" stroke-width="1.9"/>
<path d="M663.0,126.8 Q661.0,134 663.0,141.5" fill="none" stroke="#000" stroke-width="1.4" stroke-linejoin="round" stroke-linecap="round"/>
<path d="M666.3,126.8 Q664.3,134 666.3,141.5" fill="none" stroke="#000" stroke-width="1.4" stroke-linejoin="round" stroke-linecap="round"/>
<path d="M669.6,126.8 Q667.6,134 669.6,141.5" fill="none" stroke="#000" stroke-width="1.4" stroke-linejoin="round" stroke-linecap="round"/>
<path d="M674,125 L681,122 L693,123.5 L698,132 L698,143 L694,149 L681,150 L674,144 Z" fill="#fff" stroke="#000" stroke-width="1.9" stroke-linejoin="round"/>
<path d="M681,122 L686,133 L686,143 L681,150" fill="none" stroke="#000" stroke-width="1.4" stroke-linejoin="round" stroke-linecap="round"/>
<path d="M686,133 L698,132" fill="none" stroke="#000" stroke-width="1.2" stroke-linejoin="round" stroke-linecap="round"/>
<path d="M686,143 L698,143" fill="none" stroke="#000" stroke-width="1.2" stroke-linejoin="round" stroke-linecap="round"/>
<path d="M698,127 L706,128 Q711,136.5 706,145 L698,146 Z" fill="#fff" stroke="#000" stroke-width="1.9"/>
<path d="M702,127.5 Q699,136.5 702,145.5" fill="none" stroke="#000" stroke-width="1.3" stroke-linejoin="round" stroke-linecap="round"/>
</g>
<g transform="rotate(8 660.5 192)">
<path d="M661.5,184 L675.5,184.5 L675.5,200.5 L661.5,200 Q658.5,192 661.5,184 Z" fill="#fff" stroke="#000" stroke-width="1.9"/>
<path d="M664.5,184.8 Q662.5,192 664.5,199.5" fill="none" stroke="#000" stroke-width="1.4" stroke-linejoin="round" stroke-linecap="round"/>
<path d="M667.8,184.8 Q665.8,192 667.8,199.5" fill="none" stroke="#000" stroke-width="1.4" stroke-linejoin="round" stroke-linecap="round"/>
<path d="M671.1,184.8 Q669.1,192 671.1,199.5" fill="none" stroke="#000" stroke-width="1.4" stroke-linejoin="round" stroke-linecap="round"/>
<path d="M675.5,183 L682.5,180 L694.5,181.5 L699.5,190 L699.5,201 L695.5,207 L682.5,208 L675.5,202 Z" fill="#fff" stroke="#000" stroke-width="1.9" stroke-linejoin="round"/>
<path d="M682.5,180 L687.5,191 L687.5,201 L682.5,208" fill="none" stroke="#000" stroke-width="1.4" stroke-linejoin="round" stroke-linecap="round"/>
<path d="M687.5,191 L699.5,190" fill="none" stroke="#000" stroke-width="1.2" stroke-linejoin="round" stroke-linecap="round"/>
<path d="M687.5,201 L699.5,201" fill="none" stroke="#000" stroke-width="1.2" stroke-linejoin="round" stroke-linecap="round"/>
<path d="M699.5,185 L707.5,186 Q712.5,194.5 707.5,203 L699.5,204 Z" fill="#fff" stroke="#000" stroke-width="1.9"/>
<path d="M703.5,185.5 Q700.5,194.5 703.5,203.5" fill="none" stroke="#000" stroke-width="1.3" stroke-linejoin="round" stroke-linecap="round"/>
</g>
<path d="M733.4,219 L735.4,150.6 Q740,130 760,126.3 Q777,127 781.9,138.4 L792,156.6 L792,195 L763.7,211 Z" fill="#fff" stroke="none"/>
<path d="M733.4,219.2 L735.4,150.6 Q742,128 761.7,126.3 Q776,127 781.9,138.4" fill="none" stroke="#000" stroke-width="1.7" stroke-linejoin="round" stroke-linecap="round"/>
<path d="M741.5,215 L741.5,154.6 Q746,136 759,133 Q772,133 778,143" fill="none" stroke="#000" stroke-width="1.7" stroke-linejoin="round" stroke-linecap="round"/>
<path d="M746,214 L746,160 Q750,143 760,139" fill="none" stroke="#000" stroke-width="1.3" stroke-linejoin="round" stroke-linecap="round"/>
<path d="M752,213 L752,165" fill="none" stroke="#000" stroke-width="1.3" stroke-linejoin="round" stroke-linecap="round"/>
<path d="M763.7,211 L763.7,158.6 Q766,147 775,146.5 L785.9,146.5 Q792,148 792,156.6 L792,191" fill="none" stroke="#000" stroke-width="1.7" stroke-linejoin="round" stroke-linecap="round"/>
<path d="M733.4,219.2 Q737,224 741.5,219" fill="none" stroke="#000" stroke-width="1.7" stroke-linejoin="round" stroke-linecap="round"/>
<path d="M781,212 L821,222 Q834,226 826,232 L698,281 Q685,289 697,295.5 L745,303" fill="none" stroke="#000" stroke-width="13.3" stroke-linejoin="round" stroke-linecap="butt"/>
<path d="M781,212 L821,222 Q834,226 826,232 L698,281 Q685,289 697,295.5 L745,303" fill="none" stroke="#fff" stroke-width="9.7" stroke-linejoin="round" stroke-linecap="butt"/>
<path d="M776,167 L821,178 Q836,182 827,188 L698,240 Q685,247 697,253.5 L745,262" fill="none" stroke="#000" stroke-width="13.3" stroke-linejoin="round" stroke-linecap="butt"/>
<path d="M776,167 L821,178 Q836,182 827,188 L698,240 Q685,247 697,253.5 L745,262" fill="none" stroke="#fff" stroke-width="9.7" stroke-linejoin="round" stroke-linecap="butt"/>
<path d="M742,227 L775,219 Q785,224 778,232 L748,240 Q738,236 742,227 Z" fill="#fff" stroke="#000" stroke-width="1.8"/>
<path d="M745,229.0 L748,239.0" fill="none" stroke="#000" stroke-width="1.2" stroke-linejoin="round" stroke-linecap="round"/>
<path d="M748,228.5 L751,238.5" fill="none" stroke="#000" stroke-width="1.2" stroke-linejoin="round" stroke-linecap="round"/>
<path d="M751,228.0 L754,238.0" fill="none" stroke="#000" stroke-width="1.2" stroke-linejoin="round" stroke-linecap="round"/>
<path d="M754,227.5 L757,237.5" fill="none" stroke="#000" stroke-width="1.2" stroke-linejoin="round" stroke-linecap="round"/>
<path d="M747,262 Q752,254 759,255 Q768,258 770,265 L773,320 Q772,330 762,330 Q752,330 748,322 Z" fill="#fff" stroke="#000" stroke-width="1.9"/>
<path d="M752,262 L754,323" fill="none" stroke="#000" stroke-width="1.4" stroke-linejoin="round" stroke-linecap="round"/>
<path d="M758,264 L774,265 Q779,272 774,279 L758,278 Z" fill="#fff" stroke="#000" stroke-width="1.8"/>
<path d="M760.0,264.5 L761.0,278" fill="none" stroke="#000" stroke-width="1.2" stroke-linejoin="round" stroke-linecap="round"/>
<path d="M763.2,264.5 L764.2,278" fill="none" stroke="#000" stroke-width="1.2" stroke-linejoin="round" stroke-linecap="round"/>
<path d="M766.4,264.5 L767.4,278" fill="none" stroke="#000" stroke-width="1.2" stroke-linejoin="round" stroke-linecap="round"/>
<path d="M769.6,264.5 L770.6,278" fill="none" stroke="#000" stroke-width="1.2" stroke-linejoin="round" stroke-linecap="round"/>
<path d="M757,309 L773,310 Q778,317 773,324 L757,323 Z" fill="#fff" stroke="#000" stroke-width="1.8"/>
<path d="M759.0,309.5 L760.0,323" fill="none" stroke="#000" stroke-width="1.2" stroke-linejoin="round" stroke-linecap="round"/>
<path d="M762.2,309.5 L763.2,323" fill="none" stroke="#000" stroke-width="1.2" stroke-linejoin="round" stroke-linecap="round"/>
<path d="M765.4,309.5 L766.4,323" fill="none" stroke="#000" stroke-width="1.2" stroke-linejoin="round" stroke-linecap="round"/>
<path d="M768.6,309.5 L769.6,323" fill="none" stroke="#000" stroke-width="1.2" stroke-linejoin="round" stroke-linecap="round"/>
<path d="M762,293 Q758,294 759,298 Q760,301 763,300" fill="none" stroke="#000" stroke-width="1.6"/>
<path d="M778,276 L783,276" fill="none" stroke="#000" stroke-width="1.2" stroke-linejoin="round" stroke-linecap="round"/>
<path d="M776,321 L781,321" fill="none" stroke="#000" stroke-width="1.2" stroke-linejoin="round" stroke-linecap="round"/>
<ellipse cx="795.4" cy="276.3" rx="8.5" ry="12.2" transform="rotate(-5 795.4 276.3)" fill="none" stroke="#000" stroke-width="1.9"/>
<ellipse cx="791.8" cy="323" rx="8.2" ry="11" transform="rotate(-5 791.8 323)" fill="none" stroke="#000" stroke-width="1.9"/>
<path d="M851.8,250.1 Q856,236 862.4,228.9 Q870,214 879.3,209.8 Q888,204 896.3,203.5 L904.8,202.4 L934.5,210.9 L951.4,214 Q957,218 959.9,224.7" fill="none" stroke="#000" stroke-width="1.8" stroke-linejoin="round" stroke-linecap="round"/>
<path d="M851.8,250.1 Q848,266 849.7,279.8 Q850,292 853.9,301 Q858,312 864.5,322.2 L870.9,334.9" fill="none" stroke="#000" stroke-width="1.8" stroke-linejoin="round" stroke-linecap="round"/>
<path d="M845.4,256.5 L841.2,275.5 L833.8,290.4 L839,305.2 L847.6,318" fill="none" stroke="#000" stroke-width="1.8" stroke-linejoin="round" stroke-linecap="round"/>
<path d="M845.4,256.5 Q848,252 851.8,250.1" fill="none" stroke="#000" stroke-width="1.5" stroke-linejoin="round" stroke-linecap="round"/>
<path d="M935.5,210.9 L935.5,226.8" fill="none" stroke="#000" stroke-width="1.5" stroke-linejoin="round" stroke-linecap="round"/>
<path d="M916.4,322.2 Q915,305 917.5,290.4 Q919,270 923.9,256.5 Q928,243 934.5,235.3 Q940,228 947.2,225.7 L968.4,226.8" fill="none" stroke="#000" stroke-width="1.8" stroke-linejoin="round" stroke-linecap="round"/>
<path d="M919.6,284 Q930,262 945,248 Q956,235 968,228" fill="none" stroke="#000" stroke-width="1.6" stroke-linejoin="round" stroke-linecap="round"/>
<path d="M960,226 Q975,221 993,223.2 L1013,229.6 L1033.2,235.1 Q1039,238 1040.5,242.5" fill="none" stroke="#000" stroke-width="1.8" stroke-linejoin="round" stroke-linecap="round"/>
<path d="M1009.4,231.5 Q991,244 974.6,264.4 Q963,285 961.8,315.7 Q963,332 969.2,343.1" fill="none" stroke="#000" stroke-width="1.8" stroke-linejoin="round" stroke-linecap="round"/>
<path d="M1011,238 L1040,245 L1069.8,254.4 L1075.3,262.6" fill="none" stroke="#000" stroke-width="1.6" stroke-linejoin="round" stroke-linecap="round"/>
<path d="M1036.9,249.8 L998.4,302.9 L1003.9,337.7 L1027.7,368.8" fill="none" stroke="#000" stroke-width="1.8" stroke-linejoin="round" stroke-linecap="round"/>
<path d="M1036.9,249.8 L1057,252.5 L1064.3,258.9 L1091.8,277.2 L1095.5,284.6 L1035,361.5" fill="none" stroke="#000" stroke-width="1.8" stroke-linejoin="round" stroke-linecap="round"/>
<path d="M1060.7,258.9 L1003.9,337.7" fill="none" stroke="#000" stroke-width="1.6" stroke-linejoin="round" stroke-linecap="round"/>
<path d="M1091.8,279 L1033.2,361.5" fill="none" stroke="#000" stroke-width="1.5" stroke-linejoin="round" stroke-linecap="round"/>
<path d="M1032.3,259.9 L1059,258" fill="none" stroke="#000" stroke-width="1.4" stroke-linejoin="round" stroke-linecap="round"/>
<path d="M1075.3,263.5 L1102.8,271.8 Q1110,276 1112,280.9 L1113.8,291.9 L1112,302.9 L1095.5,328.5 L1071.7,368.8 Q1067,378 1062.5,383.4 L1046,396.2" fill="none" stroke="#000" stroke-width="1.8" stroke-linejoin="round" stroke-linecap="round"/>
<path d="M1106,276 Q1109,282 1108,290" fill="none" stroke="#000" stroke-width="1.3" stroke-linejoin="round" stroke-linecap="round"/>
<path d="M1020,240.8 L1061.6,252.4" fill="none" stroke="#000" stroke-width="1.4" stroke-linejoin="round" stroke-linecap="round"/>
<path d="M862.4,313.7 L976.8,347.6 L981,344.4 L1032,364.6" fill="none" stroke="#000" stroke-width="1.8" stroke-linejoin="round" stroke-linecap="round"/>
<path d="M868.7,334.9 L974.7,360.3" fill="none" stroke="#000" stroke-width="1.4" stroke-linejoin="round" stroke-linecap="round"/>
<path d="M832.7,305.2 Q826,312 826.4,322.2 Q826,333 830.6,339.1 Q835,344 841.2,345.5 L894.2,362.4 L981,375.2 L989.6,371 L1032,381.5" fill="none" stroke="#000" stroke-width="1.8" stroke-linejoin="round" stroke-linecap="round"/>
<path d="M843.3,320 L843.3,324.3 L866.6,330.6" fill="none" stroke="#000" stroke-width="1.6" stroke-linejoin="round" stroke-linecap="round"/>
<path d="M858.2,358.2 L858.2,368.8 L890,375.2" fill="none" stroke="#000" stroke-width="1.6" stroke-linejoin="round" stroke-linecap="round"/>
<path d="M892,377.3 L970,387.3" fill="none" stroke="#000" stroke-width="1.4" stroke-linejoin="round" stroke-linecap="round"/>
<path d="M1110.2,268.5 L1142.5,265 L1184.1,275.5 L1192.2,282.4 L1191,287 L1149.4,294 L1114.8,287" fill="none" stroke="#000" stroke-width="1.8" stroke-linejoin="round" stroke-linecap="round"/>
<path d="M1114.8,275.5 L1149.4,283.6 L1184.1,276" fill="none" stroke="#000" stroke-width="1.5" stroke-linejoin="round" stroke-linecap="round"/>
<path d="M1184.1,289.3 L1184.1,319.4 L1195.7,326.3" fill="none" stroke="#000" stroke-width="1.8" stroke-linejoin="round" stroke-linecap="round"/>
<path d="M1184.1,304.4 L1228,314.8 Q1235,317 1236.1,321.7 L1237.3,331 L1216.5,342.5" fill="none" stroke="#000" stroke-width="1.8" stroke-linejoin="round" stroke-linecap="round"/>
<path d="M1232.7,337.9 L1228,402.6 L1181.8,414.2" fill="none" stroke="#000" stroke-width="1.6" stroke-linejoin="round" stroke-linecap="round"/>
<path d="M1218,354 Q1225,350 1224,358 L1218,362 L1219,395 L1200,402" fill="none" stroke="#000" stroke-width="1.4" stroke-linejoin="round" stroke-linecap="round"/>
<path d="M1097.3,328.5 L1119.4,333.3 L1121.7,342.5 L1119.4,358.7 L1112.5,405" fill="none" stroke="#000" stroke-width="1.8" stroke-linejoin="round" stroke-linecap="round"/>
<path d="M1119.4,358.7 Q1125,352 1131,356 L1142.5,349.4 L1151.8,342.5 L1195.7,326.3 Q1203,330 1205,333.3 L1211.9,354 L1208,370 L1211.9,393.4 L1181.8,405 L1131,423" fill="none" stroke="#000" stroke-width="1.8" stroke-linejoin="round" stroke-linecap="round"/>
<path d="M1121,370 Q1118,390 1125,405 L1130,424" fill="none" stroke="#000" stroke-width="1.4" stroke-linejoin="round" stroke-linecap="round"/>
<path d="M1112,437 L1128.6,432 L1181.8,414 L1225.7,402.6" fill="none" stroke="#000" stroke-width="1.6" stroke-linejoin="round" stroke-linecap="round"/>
<path d="M1106.6,437 L1119,455.7 L1129,434.5" fill="none" stroke="#000" stroke-width="1.4" stroke-linejoin="round" stroke-linecap="round"/>
<path d="M987,403 L1064,414" fill="none" stroke="#000" stroke-width="13.8" stroke-linejoin="round" stroke-linecap="butt"/>
<path d="M987,403 L1064,414" fill="none" stroke="#fff" stroke-width="10.2" stroke-linejoin="round" stroke-linecap="butt"/>
<ellipse cx="984.5" cy="402.8" rx="3.8" ry="6.6" transform="rotate(0 984.5 402.8)" fill="#fff" stroke="#000" stroke-width="1.8"/>
<path d="M1001,421.8 L1058,427.7" fill="none" stroke="#000" stroke-width="14.3" stroke-linejoin="round" stroke-linecap="butt"/>
<path d="M1001,421.8 L1058,427.7" fill="none" stroke="#fff" stroke-width="10.7" stroke-linejoin="round" stroke-linecap="butt"/>
<ellipse cx="998.8" cy="421.8" rx="3.8" ry="7" transform="rotate(0 998.8 421.8)" fill="#fff" stroke="#000" stroke-width="1.8"/>
<path d="M1066,401 Q1074,400 1074.3,406 L1073,428 Q1068,432 1063,428 L1062,421 Q1068,418 1067,411 Z" fill="#fff" stroke="#000" stroke-width="1.8"/>
<path d="M1074.3,403.5 L1112,410.5 Q1116,415 1112,419 L1074.3,420.9" fill="none" stroke="#000" stroke-width="1.7" stroke-linejoin="round" stroke-linecap="round"/>
<path d="M1057,433.3 L1111.6,435.8 Q1113,430 1110,427.5 L1076,424" fill="none" stroke="#000" stroke-width="1.7" stroke-linejoin="round" stroke-linecap="round"/>
<path d="M970,401 L981,403" fill="none" stroke="#000" stroke-width="1.4" stroke-linejoin="round" stroke-linecap="round"/>
<path d="M1078,370 L1079.3,382.4 L1069.4,388.6 L1069.4,396 L1079.3,398.5" fill="none" stroke="#000" stroke-width="1.5" stroke-linejoin="round" stroke-linecap="round"/>
<path d="M1094.2,370 L1101.7,378.6 L1098,401" fill="none" stroke="#000" stroke-width="1.5" stroke-linejoin="round" stroke-linecap="round"/>
<path d="M970,387.3 L1032,403.5 L1050.7,394.8 L1075.6,360" fill="none" stroke="#000" stroke-width="1.6" stroke-linejoin="round" stroke-linecap="round"/>
<rect x="1069.8" y="719.5" width="206.7" height="149.2" fill="#fff" stroke="#000" stroke-width="1.6"/>
<path d="M1069,869.5 L1277.5,869.5" stroke="#000" stroke-width="1.3"/>
<rect x="1069.8" y="872.8" width="95.4" height="24.2" fill="#fff" stroke="#000" stroke-width="1.6"/>
<path d="M1069,897.6 L1166,897.6" stroke="#000" stroke-width="1"/>
<text x="1073.3" y="891.2" font-family="Liberation Sans" font-size="17.5" fill="#000" textLength="78.5" lengthAdjust="spacingAndGlyphs">00058021</text>
<path d="M1114.7,782.2 L1144.5,757 L1177.9,736 L1191.9,730.4 L1210,728.3 L1225.3,721.3 L1232.8,723.1 L1265.9,744.3 L1270.1,748.5 L1271.5,759.7 L1274.3,762.5 L1274.3,768.1 L1267.3,780.6 L1258.2,788.3" fill="none" stroke="#000" stroke-width="1.25" stroke-linejoin="round" stroke-linecap="round"/>
<path d="M1114.7,782.2 Q1097.8,794 1081.9,806.6 Q1075,813 1074.5,819.3 L1072.4,823.6 Q1071,832 1078.7,838.4 Q1090,847 1097.8,852.2 Q1110,858 1119,861.7 L1131.7,861.7 L1135,859.7" fill="none" stroke="#000" stroke-width="1.25" stroke-linejoin="round" stroke-linecap="round"/>
<path d="M1111.6,786.5 Q1101,799.2 1091.4,809.8 Q1086,820 1084,828.9 L1084.5,833.1" fill="none" stroke="#000" stroke-width="1.25" stroke-linejoin="round" stroke-linecap="round"/>
<path d="M1075,820.4 L1084,828.9" fill="none" stroke="#000" stroke-width="1.25" stroke-linejoin="round" stroke-linecap="round"/>
<path d="M1085,829.5 L1091,833 L1092.5,839.5 L1086.5,836 Z" fill="none" stroke="#000" stroke-width="1.25" stroke-linejoin="round" stroke-linecap="round"/>
<path d="M1094.6,834 L1101,837 L1102.5,843.7 L1096,840.5 Z" fill="none" stroke="#000" stroke-width="1.25" stroke-linejoin="round" stroke-linecap="round"/>
<path d="M1104,840.5 L1128,845 Q1131,847 1129.6,850.5 L1106,846 Q1103,844 1104,840.5 Z" fill="none" stroke="#000" stroke-width="1.25" stroke-linejoin="round" stroke-linecap="round"/>
<path d="M1104,840.5 L1163.5,810.8 L1163.5,814 L1122.1,843.7" fill="none" stroke="#000" stroke-width="1.25" stroke-linejoin="round" stroke-linecap="round"/>
<path d="M1114.5,783 Q1117,790 1123.2,791.8 Q1135,799 1140.2,802.4 Q1150,807 1163.5,810.8" fill="none" stroke="#000" stroke-width="1.25" stroke-linejoin="round" stroke-linecap="round"/>
<path d="M1135,859.7 Q1133,850 1138,845 Q1148,836 1158,835 Q1163,838 1162.4,847 Q1158,860 1147,866 Q1138,867 1135,859.7" fill="none" stroke="#000" stroke-width="1.25" stroke-linejoin="round" stroke-linecap="round"/>
<path d="M1162.4,846.9 L1180,837.3" fill="none" stroke="#000" stroke-width="1.25" stroke-linejoin="round" stroke-linecap="round"/>
<path d="M1161.2,846.3 L1231,807.2" fill="none" stroke="#000" stroke-width="1.25" stroke-linejoin="round" stroke-linecap="round"/>
<path d="M1231,806 Q1231,792 1240,784 Q1250,778 1257.5,781.5 Q1258,798 1251,808 Q1240,815 1231,806" fill="none" stroke="#000" stroke-width="1.25" stroke-linejoin="round" stroke-linecap="round"/>
<path d="M1144.5,757 L1182.1,780.6 L1170.8,809.8 L1186,810.5 L1186,806" fill="none" stroke="#000" stroke-width="1.25" stroke-linejoin="round" stroke-linecap="round"/>
<path d="M1184.9,780.6 Q1200,766 1217,759.7 L1233.8,759 Q1242,761 1240.8,763.9 Q1240,768 1238,770.9 L1184.9,804.4 L1176.5,804.4" fill="none" stroke="#000" stroke-width="1.25" stroke-linejoin="round" stroke-linecap="round"/>
<path d="M1191.9,730.4 Q1210,740 1228.2,752.7 L1252,754.1 L1265.9,744.3" fill="none" stroke="#000" stroke-width="1.25" stroke-linejoin="round" stroke-linecap="round"/>
<path d="M1210,728.3 Q1235,738 1251,753" fill="none" stroke="#000" stroke-width="1.25" stroke-linejoin="round" stroke-linecap="round"/>
<path d="M1117,775.9 Q1114,770 1116.5,766.4 Q1121,769 1121,775" fill="none" stroke="#000" stroke-width="1.25" stroke-linejoin="round" stroke-linecap="round"/>
<ellipse cx="1108.1" cy="810.3" rx="10.9" ry="11.1" fill="#000"/>
</svg>
<div id="band"></div>
<div id="cap">BMW - 64 53 8 391 323     N - 02</div>
</body></html>
